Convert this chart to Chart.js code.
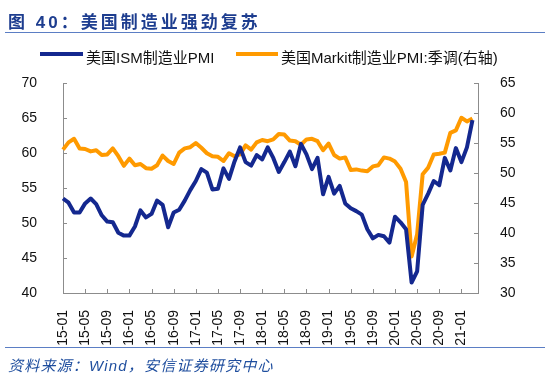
<!DOCTYPE html>
<html><head><meta charset="utf-8">
<script src="https://cdn.jsdelivr.net/npm/chart.js@4/dist/chart.umd.min.js"></script>
<style>
html,body{margin:0;padding:0;background:#fff;width:550px;height:387px;overflow:hidden;}
#wrap{position:relative;width:550px;height:387px;}
canvas{position:absolute;left:0;top:0;}
.t{position:absolute;white-space:nowrap;line-height:1;}
</style></head><body>
<div id="wrap">
<canvas id="c" width="550" height="387"></canvas>
<div class="t" style="left:8px;top:8px;font:bold 17px 'Liberation Sans','Noto Sans CJK SC';color:#1d3d8f;letter-spacing:3px;">图 40：美国制造业强劲复苏</div>
<div style="position:absolute;left:5px;top:32px;width:540px;height:0;border-top:1.5px solid #5b7ec4"></div>
<div style="position:absolute;left:40px;top:51.5px;width:43px;height:4px;background:#14288f"></div>
<div class="t" style="left:86px;top:46px;font:15px 'Liberation Sans','Noto Sans CJK SC';color:#111;">美国ISM制造业PMI</div>
<div style="position:absolute;left:236px;top:51.5px;width:42px;height:4px;background:#ff9a00"></div>
<div class="t" style="left:281px;top:46px;font:15px 'Liberation Sans','Noto Sans CJK SC';color:#111;">美国Markit制造业PMI:季调(右轴)</div>
<div style="position:absolute;left:5px;top:347px;width:540px;height:0;border-top:1.5px solid #5b7ec4"></div>
<div class="t" style="left:8px;top:354px;font:italic 15px 'Liberation Sans','Noto Sans CJK SC';color:#1f4e9e;letter-spacing:1.2px;">资料来源：Wind，安信证券研究中心</div>
</div>
<script>
const months = [
 '15-01','15-02','15-03','15-04','15-05','15-06','15-07','15-08','15-09','15-10','15-11','15-12',
 '16-01','16-02','16-03','16-04','16-05','16-06','16-07','16-08','16-09','16-10','16-11','16-12',
 '17-01','17-02','17-03','17-04','17-05','17-06','17-07','17-08','17-09','17-10','17-11','17-12',
 '18-01','18-02','18-03','18-04','18-05','18-06','18-07','18-08','18-09','18-10','18-11','18-12',
 '19-01','19-02','19-03','19-04','19-05','19-06','19-07','19-08','19-09','19-10','19-11','19-12',
 '20-01','20-02','20-03','20-04','20-05','20-06','20-07','20-08','20-09','20-10','20-11','20-12',
 '21-01','21-02','21-03'
];
const tickLabels = ['15-01','15-05','15-09','16-01','16-05','16-09','17-01','17-05','17-09','18-01','18-05','18-09','19-01','19-05','19-09','20-01','20-05','20-09','21-01'];
const ismPMI = [
 53.5,52.9,51.5,51.5,52.8,53.5,52.7,51.1,50.2,50.1,48.6,48.2,
 48.2,49.5,51.8,50.8,51.3,53.2,52.6,49.4,51.5,51.9,53.2,54.7,
 56.0,57.7,57.2,54.8,54.9,57.8,56.3,58.8,60.8,58.7,58.2,59.7,
 59.1,60.8,59.3,57.3,58.7,60.2,58.1,61.3,59.8,57.7,59.3,54.1,
 56.6,54.2,55.3,52.8,52.1,51.7,51.2,49.1,47.8,48.3,48.1,47.2,
 50.9,50.1,49.1,41.5,43.1,52.6,54.2,56.0,55.4,59.3,57.5,60.7,
 58.7,60.8,64.7
];
const markitPMI = [
 53.9,55.1,55.7,54.1,54.0,53.6,53.8,53.0,53.1,54.1,52.8,51.2,
 52.4,51.3,51.5,50.8,50.7,51.3,52.9,52.0,51.5,53.4,54.1,54.3,
 55.0,54.2,53.3,52.8,52.7,52.0,53.3,52.8,53.1,54.6,53.9,55.1,
 55.5,55.3,55.6,56.5,56.4,55.4,55.3,54.7,55.6,55.7,55.3,53.8,
 54.9,53.0,52.4,52.6,50.5,50.6,50.4,50.3,51.1,51.3,52.6,52.4,
 51.9,50.7,48.5,36.1,39.8,49.8,50.9,53.1,53.2,53.4,56.7,57.1,
 59.2,58.6,59.1
];
const labels = months.concat(['']);

const axisColor = '#8c8c8c';
const inwardTicks = {
  id: 'inwardTicks',
  afterDraw(chart) {
    const ctx = chart.ctx;
    const {x, y, y1} = chart.scales;
    const L = 4;
    ctx.save();
    ctx.strokeStyle = axisColor;
    ctx.lineWidth = 1;
    ctx.beginPath();
    labels.forEach((l, i) => {
      if (tickLabels.includes(l)) {
        const px = Math.round(x.getPixelForValue(i)) + 0.5;
        ctx.moveTo(px, x.top); ctx.lineTo(px, x.top - L);
      }
    });
    y.ticks.forEach(t => {
      const py = Math.round(y.getPixelForValue(t.value)) + 0.5;
      ctx.moveTo(y.right, py); ctx.lineTo(y.right + L, py);
    });
    y1.ticks.forEach(t => {
      const py = Math.round(y1.getPixelForValue(t.value)) + 0.5;
      ctx.moveTo(y1.left, py); ctx.lineTo(y1.left - L, py);
    });
    ctx.stroke();
    ctx.restore();
  }
};

const tickFont = {family: 'Liberation Sans', size: 14};
new Chart(document.getElementById('c'), {
  type: 'line',
  data: {
    labels: labels,
    datasets: [
      {label: '美国ISM制造业PMI', data: ismPMI, yAxisID: 'y', borderColor: '#14288f', borderWidth: 4, pointRadius: 0, tension: 0, fill: false, borderJoinStyle: 'round'},
      {label: '美国Markit制造业PMI:季调(右轴)', data: markitPMI, yAxisID: 'y1', borderColor: '#ff9a00', borderWidth: 4, pointRadius: 0, tension: 0, fill: false, borderJoinStyle: 'round'}
    ]
  },
  options: {
    responsive: false,
    animation: false,
    devicePixelRatio: 1,
    layout: {padding: {top: 83, left: 0, right: 0, bottom: 0}},
    plugins: {legend: {display: false}, tooltip: {enabled: false}},
    scales: {
      x: {
        type: 'category',
        offset: false,
        grid: {display: false},
        border: {display: true, color: axisColor, width: 1},
        ticks: {
          autoSkip: false, maxRotation: 90, minRotation: 90, padding: 9,
          color: '#111', font: tickFont,
          callback: function(v, i) { return tickLabels.includes(labels[i]) ? labels[i] : ''; }
        },
        afterFit(s) { s.height = 94; }
      },
      y: {
        position: 'left', min: 40, max: 70,
        grid: {display: false},
        border: {display: true, color: axisColor, width: 1},
        ticks: {stepSize: 5, padding: 18, color: '#111', font: tickFont},
        afterFit(s) { s.width = 63; }
      },
      y1: {
        position: 'right', min: 30, max: 65,
        grid: {display: false},
        border: {display: true, color: axisColor, width: 1},
        ticks: {stepSize: 5, padding: 14, color: '#111', font: tickFont},
        afterFit(s) { s.width = 72; }
      }
    }
  },
  plugins: [inwardTicks]
});
</script>
</body></html>
